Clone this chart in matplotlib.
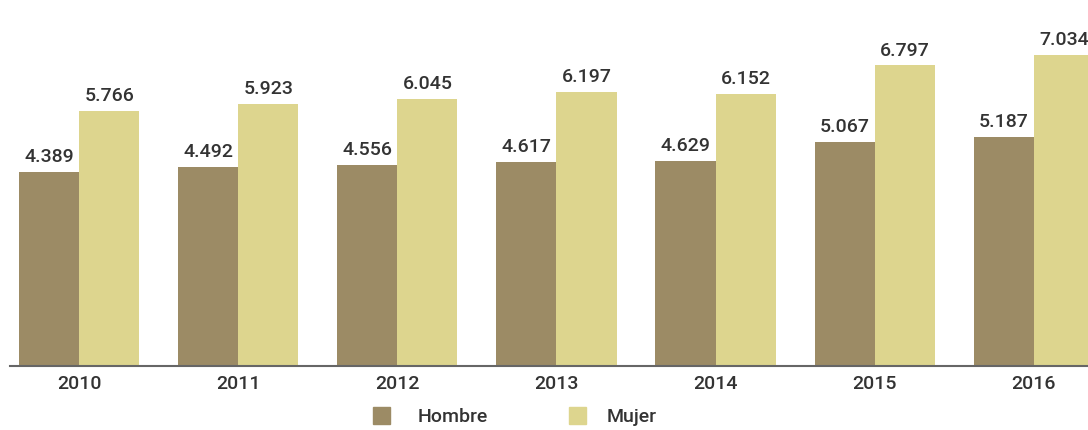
import matplotlib.pyplot as plt
import numpy as np
from matplotlib.patches import Rectangle

years = ['2010', '2011', '2012', '2013', '2014', '2015', '2016']
hombre = [4.389, 4.492, 4.556, 4.617, 4.629, 5.067, 5.187]
mujer = [5.766, 5.923, 6.045, 6.197, 6.152, 6.797, 7.034]

c_hombre = '#9c8b65'
c_mujer = '#ddd58e'
c_text = '#333333'

plt.rcParams['font.family'] = ['Roboto', 'DejaVu Sans']

fig = plt.figure(figsize=(10.88, 4.31), dpi=100)
ax = fig.add_axes([10 / 1088, 64 / 431, 1 - 10 / 1088, 367 / 431])

x = np.arange(len(years))
w = 0.378
ax.bar(x - w / 2, hombre, w, color=c_hombre)
ax.bar(x + w / 2, mujer, w, color=c_mujer)

def fmt(v):
    return f'{v:.3f}'

for i in range(len(years)):
    ax.annotate(fmt(hombre[i]), (x[i] - w / 2, hombre[i]), xytext=(0, 5),
                textcoords='offset points', ha='center', va='bottom',
                fontsize=14, color=c_text, fontweight='medium')
    ax.annotate(fmt(mujer[i]), (x[i] + w / 2, mujer[i]), xytext=(0, 5),
                textcoords='offset points', ha='center', va='bottom',
                fontsize=14, color=c_text, fontweight='medium')

ax.set_xlim(-0.434, 6.34)
ax.set_ylim(0, 8.3)
ax.set_xticks(x)
ax.set_xticklabels(years, fontsize=14, color=c_text, fontweight='medium')
ax.tick_params(axis='x', length=0, pad=6)
ax.set_yticks([])
for s in ['top', 'right', 'left']:
    ax.spines[s].set_visible(False)
ax.spines['bottom'].set_color('#666666')
ax.spines['bottom'].set_linewidth(1.5)

# legend
fig.patches.append(Rectangle((373 / 1088, 6 / 431), 17 / 1088, 17 / 431,
                             transform=fig.transFigure, color=c_hombre))
fig.text(418 / 1088, 14 / 431, 'Hombre', fontsize=14, color=c_text,
         va='center', ha='left', fontweight='medium')
fig.patches.append(Rectangle((569 / 1088, 6 / 431), 17 / 1088, 17 / 431,
                             transform=fig.transFigure, color=c_mujer))
fig.text(607 / 1088, 14 / 431, 'Mujer', fontsize=14, color=c_text,
         va='center', ha='left', fontweight='medium')

fig.savefig('out.png', dpi=100)
